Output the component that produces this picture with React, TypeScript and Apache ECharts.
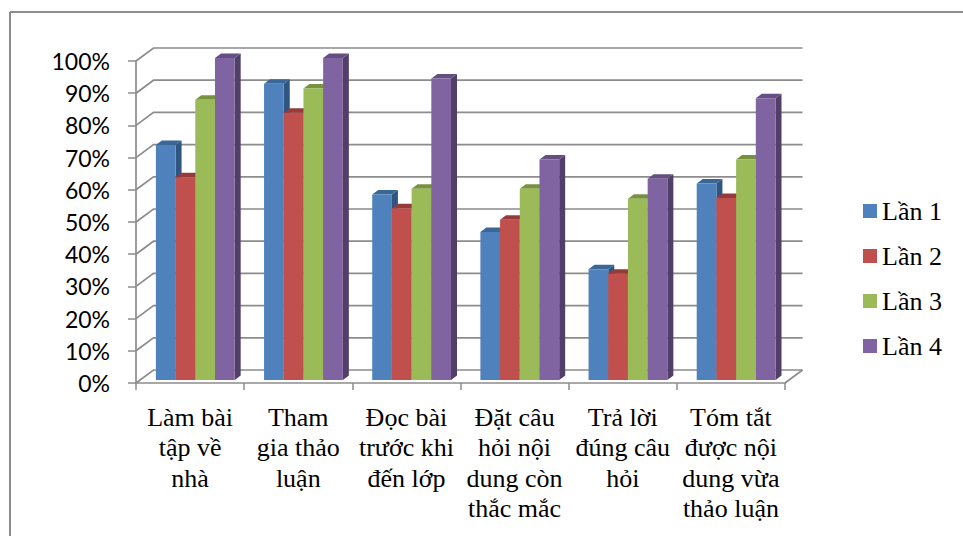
import React, { useEffect, useRef } from "react";
import * as echarts from "echarts";

const categories = [
  "Làm bài\ntập về\nnhà",
  "Tham\ngia thảo\nluận",
  "Đọc bài\ntrước khi\nđến lớp",
  "Đặt câu\nhỏi nội\ndung còn\nthắc mắc",
  "Trả lời\nđúng câu\nhỏi",
  "Tóm tắt\nđược nội\ndung vừa\nthảo luận",
];

const seriesNames = ["Lần 1", "Lần 2", "Lần 3", "Lần 4"];

const lan1 = [73, 92, 57.6, 46, 34.4, 61];
const lan2 = [63, 83, 53.3, 49.8, 33, 56.5];
const lan3 = [87, 90.5, 59.4, 59.4, 56.3, 68.5];
const lan4 = [100, 100, 93.6, 68.5, 62.5, 87.5];

const gridValues = [0, 10, 20, 30, 40, 50, 60, 70, 80, 90, 100];

const frontColors = ["#4F81BD", "#C0504D", "#9BBB59", "#8064A2"];
const topColors = ["#3A6795", "#953C3A", "#76923F", "#654F82"];
const sideColors = ["#2F5580", "#7E3230", "#637B35", "#513F68"];

const GRID_COLOR = "#8C8C8C";

// Depth of the wall behind the plot and of each column, in pixels.
const WALL_DX = 17.5;
const WALL_DY = 13;
const BAR_DX = 6;
const BAR_DY = 4.5;
const BAR_W = 19.7;
const FLOOR_LIFT = 3;
const CLUSTER_SHIFT = 5.2;

function renderWall(params: any, api: any) {
  const v = api.value(0);
  const grid = params.coordSys;
  const y = api.coord([0, v])[1];
  const x0 = grid.x;
  const x1 = grid.x + grid.width;
  const lineStyle = { stroke: GRID_COLOR, lineWidth: 1.7, fill: "none" };
  const children: any[] = [
    {
      type: "polyline",
      shape: {
        points: [
          [x0, y],
          [x0 + WALL_DX, y - WALL_DY],
          [x1 + WALL_DX, y - WALL_DY],
        ],
      },
      style: lineStyle,
    },
  ];
  if (v === 0) {
    children.push({
      type: "line",
      shape: { x1: x1, y1: y, x2: x1 + WALL_DX, y2: y - WALL_DY },
      style: lineStyle,
    });
  }
  return { type: "group", children };
}

function makeBarRenderer(seriesIndex: number) {
  return (_params: any, api: any) => {
    const cat = api.value(0);
    const val = api.value(1);
    const top = api.coord([cat, val]);
    const base = api.coord([cat, 0]);
    const left = top[0] - 2 * BAR_W + CLUSTER_SHIFT + seriesIndex * BAR_W;
    const right = left + BAR_W;
    const yTop = top[1] - FLOOR_LIFT;
    const yBase = base[1] - FLOOR_LIFT;
    return {
      type: "group",
      children: [
        {
          type: "polygon",
          shape: {
            points: [
              [right, yTop],
              [right + BAR_DX, yTop - BAR_DY],
              [right + BAR_DX, yBase - BAR_DY],
              [right, yBase],
            ],
          },
          style: { fill: sideColors[seriesIndex] },
        },
        {
          type: "polygon",
          shape: {
            points: [
              [left, yTop],
              [left + BAR_DX, yTop - BAR_DY],
              [right + BAR_DX, yTop - BAR_DY],
              [right, yTop],
            ],
          },
          style: { fill: topColors[seriesIndex] },
        },
        {
          type: "rect",
          shape: { x: left, y: yTop, width: BAR_W, height: yBase - yTop },
          style: { fill: frontColors[seriesIndex] },
        },
      ],
    };
  };
}

export default function App() {
  const ref = useRef<HTMLDivElement>(null);

  useEffect(() => {
    document.body.style.margin = "0";
    const chart = echarts.init(ref.current!, undefined, { renderer: "svg" });
    const allValues = [lan1, lan2, lan3, lan4];
    chart.setOption({
      animation: false,
      backgroundColor: "#FFFFFF",
      grid: { left: 136, right: 178, top: 61, bottom: 153 },
      xAxis: {
        type: "category",
        data: categories,
        axisLine: { show: true, lineStyle: { color: GRID_COLOR, width: 1.7 } },
        axisTick: { show: true, length: 7, alignWithLabel: false, lineStyle: { color: GRID_COLOR, width: 1.5 } },
        axisLabel: {
          interval: 0,
          margin: 19,
          fontFamily: "Liberation Serif",
          fontSize: 26,
          lineHeight: 30.5,
          color: "#000000",
          align: "center",
          verticalAlign: "top",
        },
        splitLine: { show: false },
      },
      yAxis: {
        type: "value",
        min: 0,
        max: 100,
        interval: 10,
        axisLine: { show: true, lineStyle: { color: GRID_COLOR, width: 1.7 } },
        axisTick: { show: true, length: 8, lineStyle: { color: GRID_COLOR, width: 1.5 } },
        axisLabel: {
          margin: 26,
          fontFamily: "Lato",
          fontSize: 23,
          color: "#000000",
          formatter: "{value}%",
        },
        splitLine: { show: false },
      },
      legend: {
        orient: "vertical",
        left: 858,
        top: 193,
        data: seriesNames,
        icon: "rect",
        itemWidth: 14,
        itemHeight: 14,
        itemGap: 19,
        textStyle: {
          fontFamily: "Liberation Serif",
          fontSize: 26,
          color: "#000000",
        },
      },
      graphic: [
        { type: "line", shape: { x1: 10, y1: 12, x2: 963, y2: 12 }, style: { stroke: "#8C8C8C", lineWidth: 2 } },
        { type: "line", shape: { x1: 10, y1: 12, x2: 10, y2: 536 }, style: { stroke: "#8C8C8C", lineWidth: 2 } },
      ],
      series: [
        {
          type: "custom",
          name: "wall",
          renderItem: renderWall,
          data: gridValues.map((v) => [v]),
          encode: { y: 0 },
          silent: true,
          clip: false,
          z: 1,
        },
        ...seriesNames.map((name, i) => ({
          type: "custom",
          name,
          renderItem: makeBarRenderer(i),
          data: allValues[i].map((v, c) => [c, v]),
          encode: { x: 0, y: 1 },
          itemStyle: { color: frontColors[i] },
          clip: false,
          z: 2 + i,
        })),
      ],
    });
    return () => chart.dispose();
  }, []);

  return <div ref={ref} style={{ width: 963, height: 536 }} />;
}
